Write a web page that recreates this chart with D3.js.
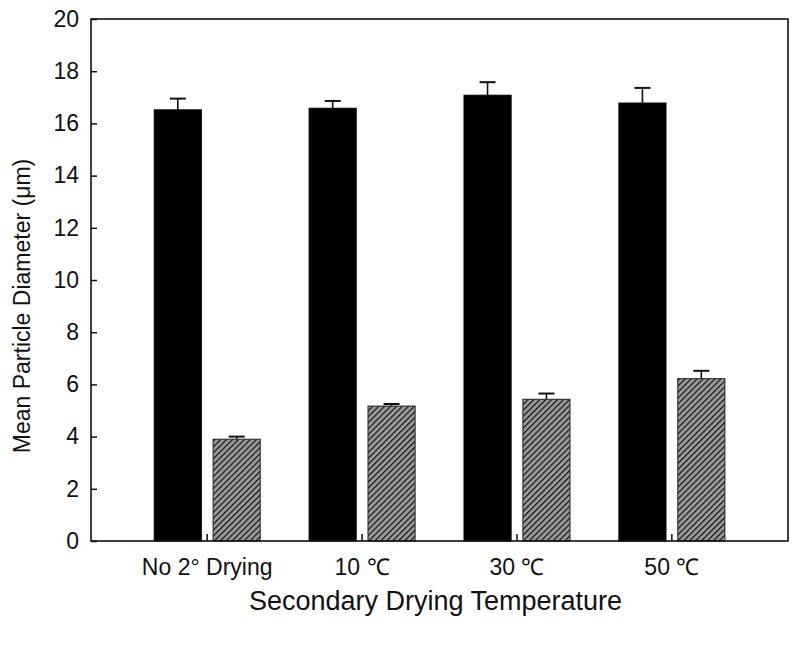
<!DOCTYPE html>
<html><head><meta charset="utf-8">
<script src="https://cdn.jsdelivr.net/npm/d3@7"></script>
<style>body{margin:0;background:#fff;} text{font-family:"Liberation Sans",Arial,sans-serif;fill:#111;}</style>
</head><body>
<svg id="c" width="800" height="648"></svg>
<script>
const categories = ["No 2\u00b0 Drying", "10 \u2103", "30 \u2103", "50 \u2103"];
const series = ["solid", "hatched"];
const solidValues = [16.52, 16.58, 17.08, 16.78];
const solidErrors = [0.43, 0.28, 0.5, 0.58];
const hatchedValues = [3.9, 5.17, 5.43, 6.22];
const hatchedErrors = [0.1, 0.08, 0.22, 0.3];
const yTicks = [0, 2, 4, 6, 8, 10, 12, 14, 16, 18, 20];

const svg = d3.select("#c");
const L = 91, R = 788, T = 19, B = 541;

const defs = svg.append("defs");
const P = 4.2;
const pat = defs.append("pattern").attr("id","hatch").attr("patternUnits","userSpaceOnUse")
  .attr("width",P).attr("height",P).attr("patternTransform","rotate(45)");
pat.append("rect").attr("width",P).attr("height",P).attr("fill","#9a9a9a");
pat.append("line").attr("x1",0).attr("y1",0).attr("x2",0).attr("y2",P).attr("stroke","#111").attr("stroke-width",2.4);

const x0 = d3.scaleBand().domain(categories).range([L, R]).paddingInner(0).paddingOuter(0.25);
const x1 = d3.scaleBand().domain(series).range([24.5, 130.5]).paddingInner(0.2);
const y = d3.scaleLinear().domain([0, 20]).range([B, T]);

const data = [];
categories.forEach((c, i) => {
  data.push({c, s:"solid", v:solidValues[i], e:solidErrors[i]});
  data.push({c, s:"hatched", v:hatchedValues[i], e:hatchedErrors[i]});
});

// error bars
const eb = svg.append("g");
data.forEach(d => {
  const cx = x0(d.c) + x1(d.s) + x1.bandwidth()/2;
  eb.append("line").attr("x1",cx).attr("x2",cx).attr("y1",y(d.v)).attr("y2",y(d.v+d.e)).attr("stroke","#111").attr("stroke-width",1.6);
  eb.append("line").attr("x1",cx-8).attr("x2",cx+8).attr("y1",y(d.v+d.e)).attr("y2",y(d.v+d.e)).attr("stroke","#111").attr("stroke-width",2);
});

svg.append("g").selectAll("rect").data(data).join("rect")
  .attr("x", d => x0(d.c) + x1(d.s))
  .attr("width", x1.bandwidth())
  .attr("y", d => y(d.v))
  .attr("height", d => y(0) - y(d.v))
  .attr("fill", d => d.s === "solid" ? "#000" : "url(#hatch)")
  .attr("stroke", d => d.s === "solid" ? "#000" : "#222")
  .attr("stroke-width", 1);

// frame
svg.append("rect").attr("x",L).attr("y",T).attr("width",R-L).attr("height",B-T)
  .attr("fill","none").attr("stroke","#111").attr("stroke-width",1.6);

// y axis
const yAxis = d3.axisLeft(y).tickValues(yTicks).tickSizeInner(-6).tickSizeOuter(0).tickPadding(12);
const gy = svg.append("g").attr("transform",`translate(${L},0)`).call(yAxis);
gy.select(".domain").remove();
gy.selectAll("line").attr("stroke","#111").attr("stroke-width",1.5);
gy.selectAll("text").attr("font-size",23).attr("fill","#111");

// x axis ticks between bars
const xAxis = d3.axisBottom(x0).tickSizeInner(-7).tickSizeOuter(0).tickPadding(18);
const gx = svg.append("g").attr("transform",`translate(0,${B})`).call(xAxis);
gx.select(".domain").remove();
gx.selectAll("line").attr("stroke","#111").attr("stroke-width",1.5);
gx.selectAll("text").attr("font-size",23).attr("fill","#111");

svg.append("text").attr("x",(L+R)/2 - 4).attr("y",610).attr("text-anchor","middle")
  .attr("font-size",27).text("Secondary Drying Temperature");
svg.append("text").attr("transform",`translate(30,${(T+B)/2 + 26}) rotate(-90)`).attr("text-anchor","middle")
  .attr("font-size",23).text("Mean Particle Diameter (\u03bcm)");
</script>
</body></html>
